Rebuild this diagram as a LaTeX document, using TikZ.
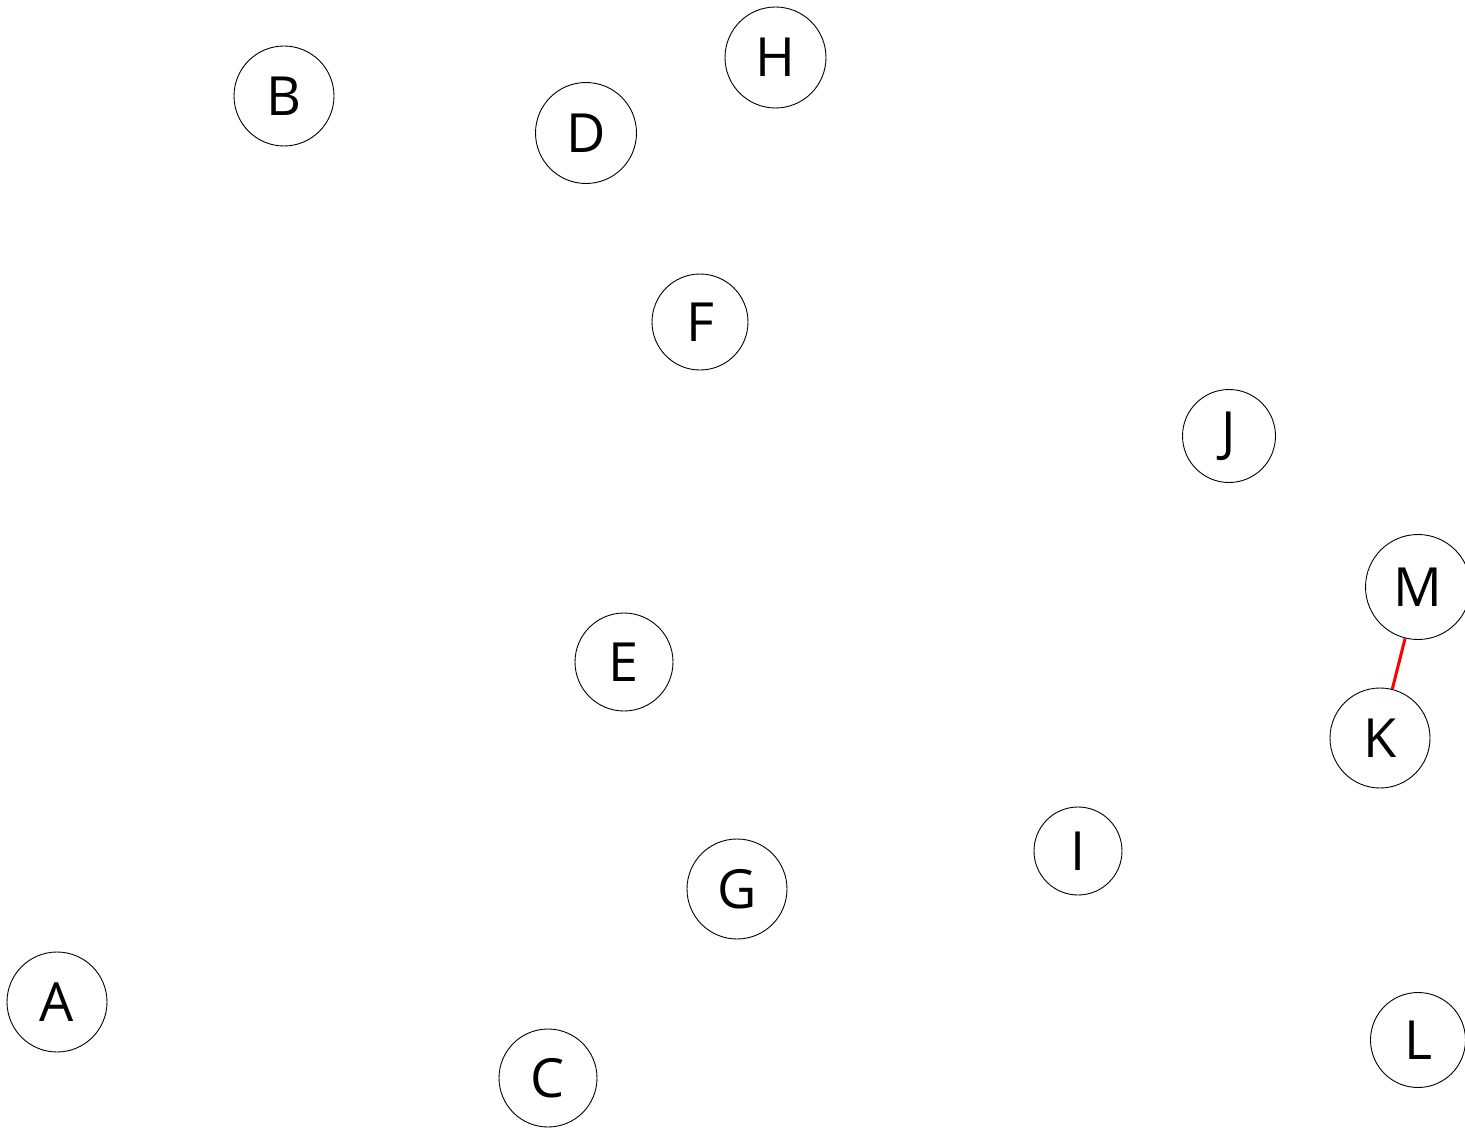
\documentclass[tikz,border=0pt]{standalone}
\usepackage{fontspec}
\setmainfont{Open Sans}
\begin{document}
\begin{tikzpicture}[x=1pt,y=-1pt,
  vtx/.style={draw=black,circle,line width=0.9pt,inner sep=0pt,font=\fontsize{54}{54}\selectfont},
  redge/.style={draw=red,line width=3pt}]
\useasboundingbox (0,0) rectangle (1465,1129);
\node[vtx,minimum size=100pt] (A) at (57,1002) {A};
\node[vtx,minimum size=100pt] (B) at (284,96) {B};
\node[vtx,minimum size=98pt] (C) at (548,1078) {C};
\node[vtx,minimum size=101pt] (D) at (586,133) {D};
\node[vtx,minimum size=98pt] (E) at (624,662) {E};
\node[vtx,minimum size=96pt] (F) at (700,322) {F};
\node[vtx,minimum size=100pt] (G) at (737,889) {G};
\node[vtx,minimum size=101pt] (H) at (775.5,57.5) {H};
\node[vtx,minimum size=88pt] (I) at (1078,851) {I};
\node[vtx,minimum size=93pt] (J) at (1229,436) {J};
\node[vtx,minimum size=100pt] (K) at (1380,738) {K};
\node[vtx,minimum size=95pt] (L) at (1418,1040) {L};
\node[vtx,minimum size=105pt] (M) at (1418,587) {M};
\draw[redge] (M) -- (K);
\end{tikzpicture}
\end{document}
